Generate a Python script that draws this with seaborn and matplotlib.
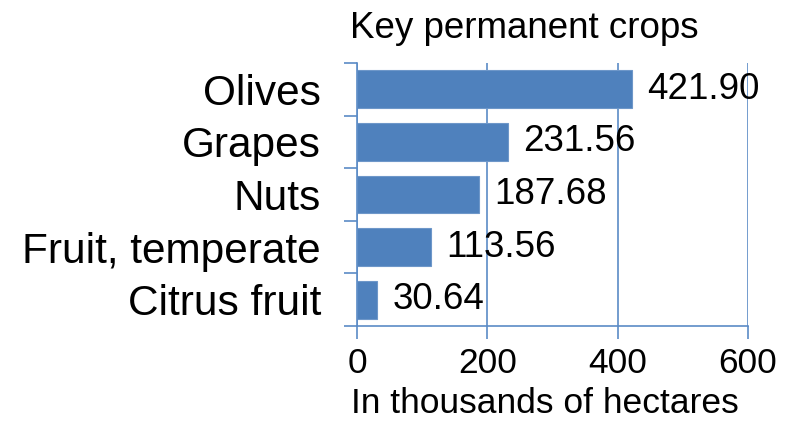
import pandas as pd
import numpy as np
import matplotlib
matplotlib.use('Agg')
import matplotlib.pyplot as plt
import seaborn as sns
from matplotlib.ticker import FixedLocator

crops = ['Olives', 'Grapes', 'Nuts', 'Fruit, temperate', 'Citrus fruit']
area = [421.90, 231.56, 187.68, 113.56, 30.64]
xticks = [0, 200, 400, 600]

sns.set_style('white')
plt.rcParams['font.family'] = ['Liberation Sans', 'DejaVu Sans']
plt.rcParams['text.color'] = 'black'
plt.rcParams['xtick.color'] = 'black'
plt.rcParams['ytick.color'] = 'black'

blue = '#4F81BD'
line_blue = '#5B8BC6'

df = pd.DataFrame({'crop': crops, 'area': area})

fig = plt.figure(figsize=(7.92, 4.23), dpi=100)
ax = fig.add_axes([357/792, 1 - 326/423, (748 - 357)/792, (326 - 63)/423])

sns.barplot(data=df, x='area', y='crop', orient='h', color=blue, width=0.72,
            saturation=1, edgecolor='#6E97C9', linewidth=0.8, ax=ax)

ax.set_xlim(0, 600)
ax.set_ylim(len(crops) - 0.5, -0.5)
ax.set_xticks(xticks)
ax.set_xticklabels([str(t) for t in xticks], fontsize=25.5)
ax.tick_params(axis='x', bottom=True, length=9, width=1.2, color=line_blue,
               labelcolor='black', pad=6)
ax.tick_params(axis='y', which='major', length=0, pad=26, labelsize=30.5, labelcolor='black')
ax.yaxis.set_minor_locator(FixedLocator(np.arange(-0.5, len(crops), 1.0)))
ax.tick_params(axis='y', which='minor', length=9.5, width=1.2, color=line_blue, left=True)
ax.set_xlabel('')
ax.set_ylabel('')

ax.grid(axis='x', color=line_blue, linewidth=1.2)
ax.set_axisbelow(True)
for side in ['top', 'right']:
    ax.spines[side].set_visible(False)
for side in ['left', 'bottom']:
    ax.spines[side].set_color(line_blue)
    ax.spines[side].set_linewidth(1.2)

for c in ax.containers:
    ax.bar_label(c, fmt='%.2f', padding=11, fontsize=26.5, color='black', zorder=5)

fig.text(524/792, 1 - 28/423, 'Key permanent crops', ha='center', va='center', fontsize=26.5)
fig.text(545/792, 1 - 403/423, 'In thousands of hectares', ha='center', va='center', fontsize=25.5)

fig.savefig('out.png', dpi=100)
